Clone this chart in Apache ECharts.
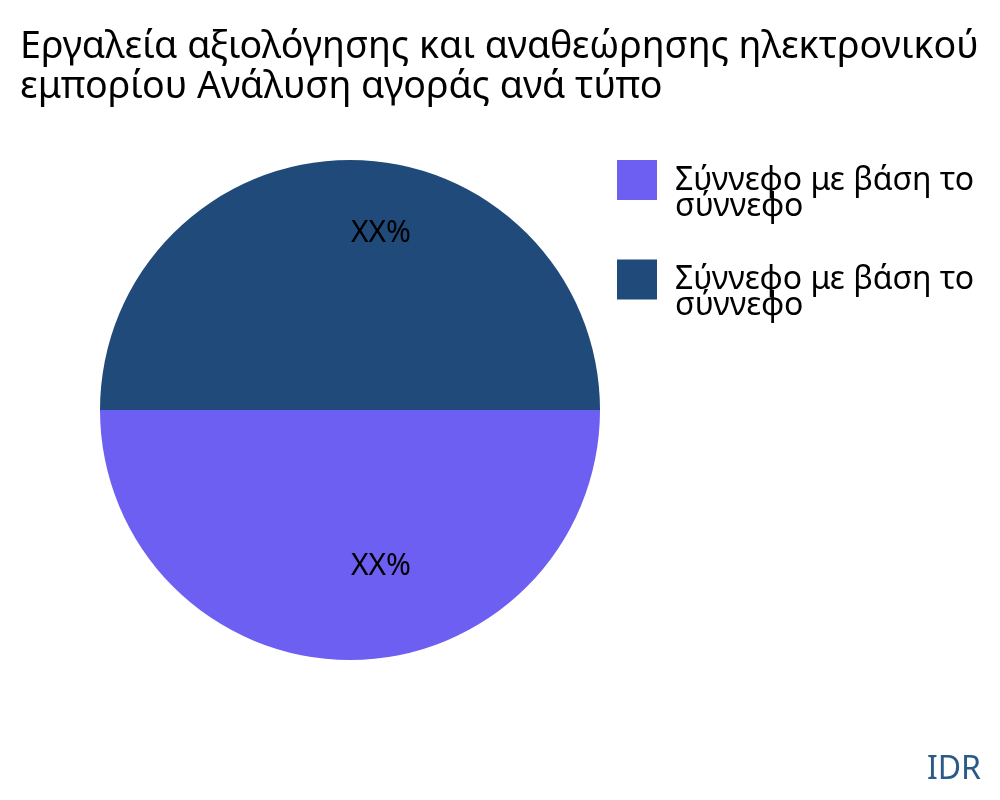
<!DOCTYPE html>
<html>
<head>
<meta charset="utf-8">
<script src="https://cdn.jsdelivr.net/npm/echarts@6/dist/echarts.min.js"></script>
<style>
html,body{margin:0;padding:0;background:#fff;}
#chart{width:1000px;height:800px;}
</style>
</head>
<body>
<div id="chart"></div>
<script>
const titleLines = ['Εργαλεία αξιολόγησης και αναθεώρησης ηλεκτρονικού', 'εμπορίου Ανάλυση αγοράς ανά τύπο'];
const categories = ['Σύννεφο με βάση το σύννεφο', 'Σύννεφο με βάση το σύννεφο'];
const values = [50, 50];
const labels = ['XX%', 'XX%'];
const colors = ['#6c5ff1', '#1f4a79'];

const FONT = '"Noto Sans", "Open Sans", sans-serif';
// distinct internal names so the legend keeps both identical entries
const names = categories.map((c, i) => c + '\u200B'.repeat(i));
const labelOffsets = [[31, 28], [31, -49]];

const chart = echarts.init(document.getElementById('chart'), null, {renderer: 'canvas'});
chart.setOption({
  animation: false,
  backgroundColor: '#ffffff',
  color: colors,
  title: {
    text: titleLines.join('\n'),
    left: 15,
    top: 22,
    textStyle: {fontFamily: FONT, fontSize: 37.6, fontWeight: 'normal', color: '#000', lineHeight: 40}
  },
  graphic: [{
    type: 'text',
    right: 19,
    top: 754,
    style: {text: 'IDR', fontFamily: FONT, fontSize: 32, fill: '#2a5a88'}
  }],
  legend: {
    orient: 'vertical',
    left: 617,
    top: 149,
    padding: 0,
    itemWidth: 40,
    itemHeight: 40,
    itemGap: 26,
    icon: 'rect',
    data: names,
    formatter: function (n) {
      const t = n.replace(/\u200B/g, '');
      const m = t.match(/^(.*) (\S+)$/);
      return '{g| }\n{t|' + m[1] + '}\n{t|' + m[2] + '}';
    },
    textStyle: {
      fontFamily: FONT, fontSize: 32, color: '#000', padding: [0, 0, 0, 13],
      rich: {
        g: {fontSize: 10, lineHeight: 27},
        t: {fontFamily: FONT, fontSize: 32, lineHeight: 26, color: '#000'}
      }
    }
  },
  series: [{
    type: 'pie',
    center: [350, 410],
    radius: 250,
    startAngle: 0,
    clockwise: true,
    avoidLabelOverlap: false,
    label: {
      show: true,
      position: 'inside',
      fontFamily: FONT,
      fontSize: 30,
      color: '#000',
      formatter: function (p) { return labels[p.dataIndex]; }
    },
    labelLine: {show: false},
    itemStyle: {borderWidth: 0},
    emphasis: {disabled: true},
    data: names.map((n, i) => ({
      name: n,
      value: values[i],
      label: {offset: labelOffsets[i]}
    }))
  }]
});
</script>
</body>
</html>
